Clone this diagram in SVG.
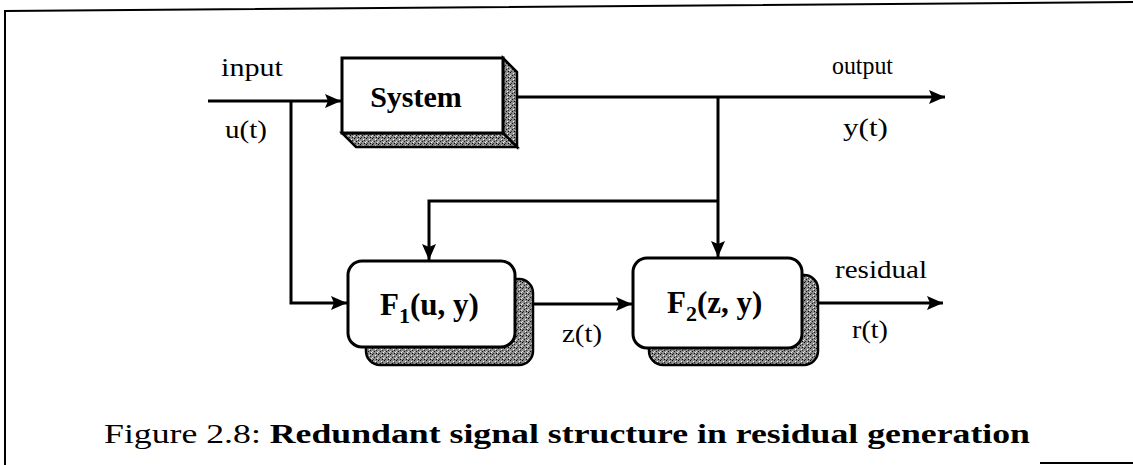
<svg xmlns="http://www.w3.org/2000/svg" width="1133" height="465" viewBox="0 0 1133 465">
<style>
.lbl{font-family:"Liberation Serif","Times New Roman",serif;font-size:26px;fill:#000}
.box{font-family:"Liberation Serif","Times New Roman",serif;font-weight:bold;fill:#000}
.wire{fill:none;stroke:#000;stroke-width:3}
.front{fill:#fff;stroke:#000;stroke-width:3}
.shadow{fill:url(#stip);stroke:#000;stroke-width:2.5}
.cap{font-family:"Liberation Serif","Times New Roman",serif;font-size:27px;fill:#000}
</style>
<defs>
<pattern id="stip" width="6" height="6" patternUnits="userSpaceOnUse">
<rect width="6" height="6" fill="#8c8c8c"/>
<rect x="0" y="0" width="1" height="1" fill="#000"/>
<rect x="3" y="1" width="1" height="1" fill="#fff"/>
<rect x="2" y="3" width="1" height="1" fill="#111"/>
<rect x="5" y="4" width="1" height="1" fill="#eee"/>
<rect x="1" y="5" width="1" height="1" fill="#333"/>
<rect x="4" y="2" width="1" height="1" fill="#222"/>
<rect x="0" y="3" width="1" height="1" fill="#ddd"/>
<rect x="4" y="5" width="1" height="1" fill="#000"/>
</pattern>
<marker id="ah" viewBox="0 0 16 14" refX="16" refY="7" markerWidth="16" markerHeight="14" markerUnits="userSpaceOnUse" orient="auto">
<path d="M0,0 L16,7 L0,14 L3,7 Z" fill="#000"/>
</marker>
</defs>

<g id="frame" fill="none" stroke="#000" stroke-width="2">
<polyline points="5,465 5,11 1133,2"/>
<line x1="1040" y1="463" x2="1133" y2="463"/>
</g>

<g id="connectors" class="wire">
<path d="M208,101 H341" marker-end="url(#ah)"/>
<path d="M291,101 V303 H347" marker-end="url(#ah)"/>
<path d="M503,97 H945" marker-end="url(#ah)"/>
<path d="M718,97 V257" marker-end="url(#ah)"/>
<path d="M718,201 H429 V260" marker-end="url(#ah)"/>
<path d="M515,304 H632" marker-end="url(#ah)"/>
<path d="M802,303 H943" marker-end="url(#ah)"/>
</g>

<g id="system">
<polygon class="shadow" points="503,58 517,72 517,147 503,133"/>
<polygon class="shadow" points="342,133 503,133 517,147 356,147"/>
<rect class="front" x="342" y="58" width="161" height="75"/>
<text class="box" x="416" y="107" font-size="30" text-anchor="middle">System</text>
</g>

<g id="f1">
<rect class="shadow" x="366" y="279" width="167" height="86" rx="14"/>
<rect class="front" x="348" y="261" width="167" height="86" rx="14"/>
<text class="box" x="380" y="315" font-size="31">F<tspan font-size="22" dy="8">1</tspan><tspan dy="-8">(u, y)</tspan></text>
</g>

<g id="f2">
<rect class="shadow" x="649" y="275" width="169" height="90" rx="14"/>
<rect class="front" x="633" y="258" width="169" height="90" rx="14"/>
<text class="box" x="667" y="313" font-size="31">F<tspan font-size="22" dy="8">2</tspan><tspan dy="-8">(z, y)</tspan></text>
</g>

<g id="labels">
<text class="lbl" x="221" y="76" textLength="62" lengthAdjust="spacingAndGlyphs">input</text>
<text class="lbl" x="225" y="138" textLength="42" lengthAdjust="spacingAndGlyphs">u(t)</text>
<text class="lbl" x="832" y="74" textLength="61" lengthAdjust="spacingAndGlyphs">output</text>
<text class="lbl" x="843" y="136" textLength="45" lengthAdjust="spacingAndGlyphs">y(t)</text>
<text class="lbl" x="835" y="278" textLength="92" lengthAdjust="spacingAndGlyphs">residual</text>
<text class="lbl" x="852" y="338" textLength="36" lengthAdjust="spacingAndGlyphs">r(t)</text>
<text class="lbl" x="562" y="342" textLength="40" lengthAdjust="spacingAndGlyphs">z(t)</text>
</g>

<g id="caption">
<text class="cap" x="104" y="443" textLength="926" lengthAdjust="spacingAndGlyphs">Figure 2.8: <tspan font-weight="bold">Redundant signal structure in residual generation</tspan></text>
</g>
</svg>
